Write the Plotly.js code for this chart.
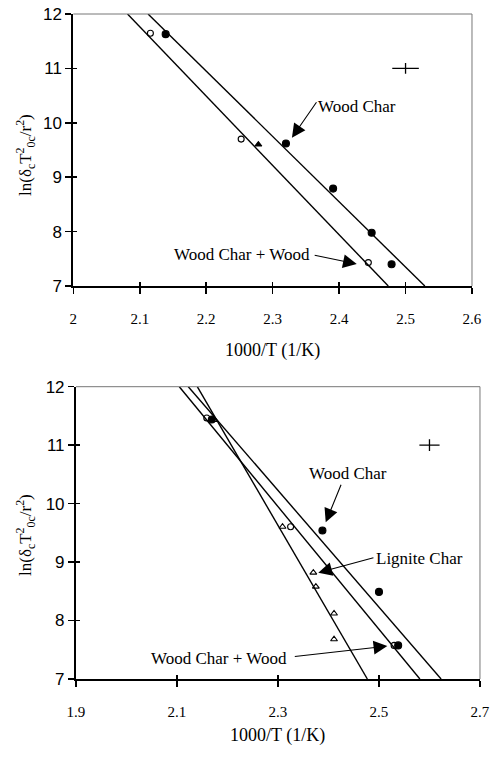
<!DOCTYPE html>
<html>
<head>
<meta charset="utf-8">
<script src="https://cdn.plot.ly/plotly-3.0.1.min.js"></script>
<style>html,body{margin:0;padding:0;background:#fff}#chart{width:496px;height:758px}</style>
</head>
<body>
<div id="chart"></div>
<script>
// ---- data ----
// upper panel
const topWoodCharX = [2.139, 2.320, 2.391, 2.449, 2.479];
const topWoodCharY = [11.63, 9.62, 8.79, 7.98, 7.40];
const topMixX = [2.116, 2.2526, 2.444];
const topMixY = [11.645, 9.70, 7.43];
const topTriX = [2.2785];
const topTriY = [9.60];
const topWoodCharLineX = [2.1125, 2.529];
const topWoodCharLineY = [12, 7];
const topMixLineX = [2.0816, 2.474];
const topMixLineY = [12, 7];
const topErrX = [2.5];
const topErrY = [11.0];

// lower panel
const botWoodCharX = [2.169, 2.388, 2.500, 2.538];
const botWoodCharY = [11.44, 9.54, 8.49, 7.575];
const botMixX = [2.159, 2.325, 2.530];
const botMixY = [11.465, 9.605, 7.575];
const botLigniteX = [2.174, 2.309, 2.370, 2.375, 2.411, 2.411];
const botLigniteY = [11.43, 9.605, 8.82, 8.58, 8.12, 7.68];
const botWoodCharLineX = [2.1224, 2.623];
const botWoodCharLineY = [12, 7];
const botMixLineX = [2.1046, 2.581];
const botMixLineY = [12, 7];
const botLigniteLineX = [2.1402, 2.477];
const botLigniteLineY = [12, 7];
const botErrX = [2.6];
const botErrY = [11.0];

const errHalfX = 0.02;
const errHalfY = 0.1;

const topXTicks = [2, 2.1, 2.2, 2.3, 2.4, 2.5, 2.6];
const botXTicks = [1.9, 2.1, 2.3, 2.5, 2.7];
const yTicks = [7, 8, 9, 10, 11, 12];

const xTitle = '1000/T (1/K)';
const yTitle = 'ln(δ<sub>c</sub>T<sup>2</sup><sub>0c</sub>/r<sup>2</sup>)';
const lblWoodChar = 'Wood Char';
const lblMix = 'Wood Char + Wood';
const lblLignite = 'Lignite Char';

// ---- styles ----
const SERIF = 'Liberation Serif, Times New Roman, serif';
const SANS = 'Liberation Sans, Arial, sans-serif';
const K = '#000';

function lineTrace(x, y, xa, ya) {
  return {x, y, xaxis: xa, yaxis: ya, mode: 'lines', type: 'scatter',
    line: {color: K, width: 1.4}, hoverinfo: 'skip', showlegend: false, cliponaxis: true};
}
function markTrace(x, y, xa, ya, symbol, size) {
  return {x, y, xaxis: xa, yaxis: ya, mode: 'markers', type: 'scatter', showlegend: false,
    marker: {symbol, size, color: K, line: {color: K, width: 1.1}}, cliponaxis: false};
}
function errTrace(x, y, xa, ya) {
  return {x, y, xaxis: xa, yaxis: ya, mode: 'markers', type: 'scatter', showlegend: false,
    marker: {size: 1, color: 'rgba(0,0,0,0)'},
    error_x: {type: 'constant', value: errHalfX, width: 0, thickness: 1.3, color: K},
    error_y: {type: 'constant', value: errHalfY, width: 0, thickness: 1.3, color: K}};
}
function emptyTrace(xa, ya) {
  return {x: [], y: [], xaxis: xa, yaxis: ya, type: 'scatter', mode: 'markers', showlegend: false, hoverinfo: 'skip'};
}

const data = [
  lineTrace(topWoodCharLineX, topWoodCharLineY, 'x', 'y'),
  lineTrace(topMixLineX, topMixLineY, 'x', 'y'),
  markTrace(topWoodCharX, topWoodCharY, 'x', 'y', 'circle', 7),
  markTrace(topMixX, topMixY, 'x', 'y', 'circle-open', 6),
  markTrace(topTriX, topTriY, 'x', 'y', 'triangle-up', 6),
  errTrace(topErrX, topErrY, 'x', 'y'),

  lineTrace(botWoodCharLineX, botWoodCharLineY, 'x2', 'y2'),
  lineTrace(botMixLineX, botMixLineY, 'x2', 'y2'),
  lineTrace(botLigniteLineX, botLigniteLineY, 'x2', 'y2'),
  markTrace(botWoodCharX, botWoodCharY, 'x2', 'y2', 'circle', 7),
  markTrace(botMixX, botMixY, 'x2', 'y2', 'circle-open', 6),
  markTrace(botLigniteX, botLigniteY, 'x2', 'y2', 'triangle-up-open', 6),
  errTrace(botErrX, botErrY, 'x2', 'y2'),

  // empty traces so the inner-tick overlay axes get drawn
  emptyTrace('x3', 'y'), emptyTrace('x', 'y3'),
  emptyTrace('x4', 'y2'), emptyTrace('x2', 'y4')
];

function xAx(domain, anchor, range, ticks) {
  return {domain, anchor, range, tickmode: 'array', tickvals: ticks, ticktext: ticks.map(String),
    ticks: 'outside', ticklen: 6, tickwidth: 1.5, tickcolor: K,
    showline: true, linecolor: K, linewidth: 2, showgrid: false, zeroline: false,
    tickfont: {family: SERIF, size: 15, color: K}, ticklabelstandoff: 12, fixedrange: true};
}
function yAx(domain, anchor, range, ticks) {
  return {domain, anchor, range, tickmode: 'array', tickvals: ticks, ticktext: ticks.map(String),
    ticks: 'outside', ticklen: 6, tickwidth: 1.5, tickcolor: K,
    showline: true, linecolor: K, linewidth: 2, showgrid: false, zeroline: false,
    tickfont: {family: SANS, size: 17, color: K}, fixedrange: true};
}
function innerAx(over, anchor, range, ticks) {
  return {overlaying: over, anchor, range, tickmode: 'array', tickvals: ticks,
    ticks: 'inside', ticklen: 4, tickwidth: 1.5, tickcolor: K,
    showticklabels: false, showline: false, showgrid: false, zeroline: false, fixedrange: true};
}

function textAnn(xr, yr, x, y, text) {
  return {xref: xr, yref: yr, x, y, text, showarrow: false,
    font: {family: SERIF, size: 17, color: K}, xanchor: 'center', yanchor: 'middle'};
}
function arrowAnn(xr, yr, x, y, ax, ay) {
  return {xref: xr, yref: yr, axref: xr, ayref: yr, x, y, ax, ay, text: '',
    showarrow: true, arrowhead: 2, arrowsize: 2.5, arrowwidth: 1.1, arrowcolor: K, standoff: 0, startstandoff: 0};
}

const layout = {
  width: 496, height: 758,
  margin: {l: 0, r: 0, t: 0, b: 0},
  paper_bgcolor: '#fff', plot_bgcolor: '#fff',
  showlegend: false,
  xaxis: xAx([0.1478, 0.9516], 'y', [2, 2.6], topXTicks),
  yaxis: yAx([0.6227, 0.98153], 'x', [7, 12], yTicks),
  xaxis2: xAx([0.1532, 0.9677], 'y2', [1.9, 2.7], botXTicks),
  yaxis2: yAx([0.10422, 0.48984], 'x2', [7, 12], yTicks),
  xaxis3: innerAx('x', 'y', [2, 2.6], topXTicks),
  yaxis3: innerAx('y', 'x', [7, 12], yTicks),
  xaxis4: innerAx('x2', 'y2', [1.9, 2.7], botXTicks),
  yaxis4: innerAx('y2', 'x2', [7, 12], yTicks),
  shapes: [
    {type: 'line', xref: 'x domain', yref: 'y domain', x0: 0, x1: 1, y0: 1, y1: 1, line: {color: '#777', width: 1}},
    {type: 'line', xref: 'x domain', yref: 'y domain', x0: 1, x1: 1, y0: 0, y1: 1, line: {color: '#777', width: 1}},
    {type: 'line', xref: 'x2 domain', yref: 'y2 domain', x0: 0, x1: 1, y0: 1, y1: 1, line: {color: '#777', width: 1}},
    {type: 'line', xref: 'x2 domain', yref: 'y2 domain', x0: 1, x1: 1, y0: 0, y1: 1, line: {color: '#777', width: 1}}
  ],
  annotations: [
    // upper panel labels
    textAnn('x', 'y', 2.4275, 10.296, lblWoodChar),
    arrowAnn('x', 'y', 2.329, 9.727, 2.3675, 10.406),
    textAnn('x', 'y', 2.2538, 7.570, lblMix),
    arrowAnn('x', 'y', 2.4266, 7.404, 2.361, 7.570),
    // lower panel labels
    textAnn('x2', 'y2', 2.4386, 10.518, lblWoodChar),
    arrowAnn('x2', 'y2', 2.3945, 9.68, 2.4261, 10.347),
    textAnn('x2', 'y2', 2.5796, 9.064, lblLignite),
    arrowAnn('x2', 'y2', 2.3798, 8.818, 2.492, 9.081),
    textAnn('x2', 'y2', 2.1836, 7.353, lblMix),
    arrowAnn('x2', 'y2', 2.5165, 7.564, 2.3303, 7.381),
    // axis titles
    {xref: 'x domain', yref: 'paper', x: 0.5, y: 1 - 351 / 758, text: xTitle, showarrow: false,
      font: {family: SERIF, size: 18, color: K}, xanchor: 'center', yanchor: 'middle'},
    {xref: 'x2 domain', yref: 'paper', x: 0.5, y: 1 - 735 / 758, text: xTitle, showarrow: false,
      font: {family: SERIF, size: 18, color: K}, xanchor: 'center', yanchor: 'middle'},
    {xref: 'paper', yref: 'paper', x: 25 / 496, y: 1 - 155 / 758, text: yTitle, showarrow: false, textangle: -90,
      font: {family: SERIF, size: 17, color: K}, xanchor: 'center', yanchor: 'middle'},
    {xref: 'paper', yref: 'paper', x: 25 / 496, y: 1 - 535 / 758, text: yTitle, showarrow: false, textangle: -90,
      font: {family: SERIF, size: 17, color: K}, xanchor: 'center', yanchor: 'middle'}
  ]
};

Plotly.newPlot('chart', data, layout, {staticPlot: true, displayModeBar: false});
</script>
</body>
</html>
